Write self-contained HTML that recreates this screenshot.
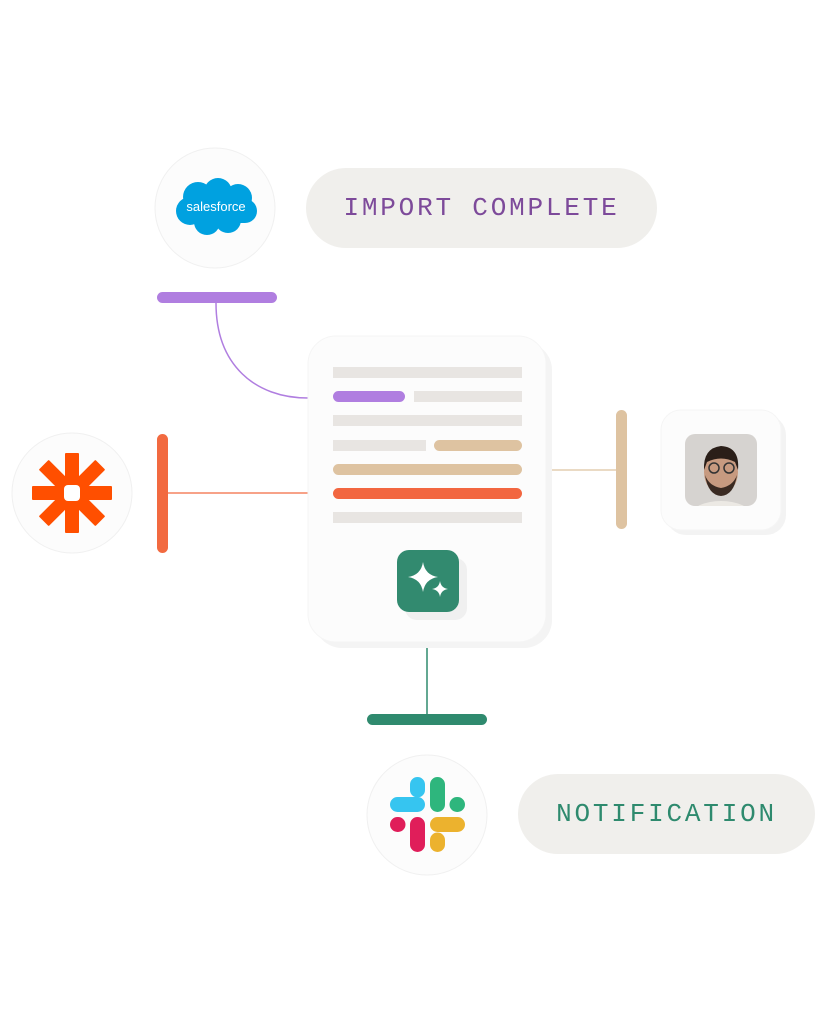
<!DOCTYPE html>
<html><head><meta charset="utf-8"><style>
html,body{margin:0;padding:0;background:#fff;}
body{width:828px;height:1024px;position:relative;overflow:hidden;font-family:"Liberation Mono",monospace;}
.a{position:absolute;}
.pill{background:#f0efec;border-radius:40px;display:flex;align-items:center;justify-content:center;font-size:26px;letter-spacing:2.8px;}
</style></head><body>
<svg class="a" style="left:0;top:0" width="828" height="1024" viewBox="0 0 828 1024">
  <path d="M216 303 C216 365 255 398 308 398" fill="none" stroke="#b07ee0" stroke-width="1.5"/>
  <line x1="168" y1="493" x2="308" y2="493" stroke="#f26a40" stroke-width="1.2"/>
  <line x1="546" y1="470" x2="616" y2="470" stroke="#dec3a1" stroke-width="1.2"/>
  <line x1="427" y1="642" x2="427" y2="714" stroke="#2f8a6e" stroke-width="1.5"/>
  <rect x="157" y="292" width="120" height="11" rx="5.5" fill="#b07ee0"/>
  <rect x="157" y="434" width="11" height="119" rx="5.5" fill="#f26a40"/>
  <rect x="616" y="410" width="11" height="119" rx="5.5" fill="#dec3a1"/>
  <rect x="367" y="714" width="120" height="11" rx="5.5" fill="#2f8a6e"/>
  <circle cx="215" cy="208" r="60" fill="#fcfcfc" stroke="#f0f0f0"/>
  <circle cx="72" cy="493" r="60" fill="#fcfcfc" stroke="#f0f0f0"/>
  <circle cx="427" cy="815" r="60" fill="#fcfcfc" stroke="#f0f0f0"/>
  <g fill="#00a1e0">
    <circle cx="198" cy="197" r="15"/><circle cx="218" cy="192" r="14"/><circle cx="238" cy="198" r="14"/>
    <circle cx="190" cy="211" r="14"/><circle cx="245" cy="211" r="12"/><circle cx="207" cy="222" r="13"/><circle cx="228" cy="220" r="13"/>
    <rect x="190" y="195" width="55" height="28"/>
  </g>
  <text x="216" y="211" font-family="Liberation Sans,sans-serif" font-size="13" fill="#fff" text-anchor="middle">salesforce</text>
  <g fill="#ff4f00" transform="translate(72,493)">
    <rect x="-7" y="-40" width="14" height="80" rx="1"/>
    <rect x="-7" y="-40" width="14" height="80" rx="1" transform="rotate(45)"/>
    <rect x="-7" y="-40" width="14" height="80" rx="1" transform="rotate(90)"/>
    <rect x="-7" y="-40" width="14" height="80" rx="1" transform="rotate(135)"/>
    <rect x="-8" y="-8" width="16" height="16" rx="4" fill="#fff"/>
  </g>
  <rect x="314" y="342" width="238" height="306" rx="28" fill="#f4f4f4"/>
  <rect x="308" y="336" width="238" height="306" rx="28" fill="#fcfcfc" stroke="#f5f5f5"/>
  <g>
    <rect x="333" y="367" width="189" height="11" fill="#e8e5e2"/>
    <rect x="333" y="391" width="72" height="11" rx="5.5" fill="#b07ee0"/>
    <rect x="414" y="391" width="108" height="11" fill="#e8e5e2"/>
    <rect x="333" y="415" width="189" height="11" fill="#e8e5e2"/>
    <rect x="333" y="440" width="93" height="11" fill="#e8e5e2"/>
    <rect x="434" y="440" width="88" height="11" rx="5.5" fill="#dec3a1"/>
    <rect x="333" y="464" width="189" height="11" rx="5.5" fill="#dec3a1"/>
    <rect x="333" y="488" width="189" height="11" rx="5.5" fill="#f26640"/>
    <rect x="333" y="512" width="189" height="11" fill="#e8e5e2"/>
  </g>
  <rect x="405" y="558" width="62" height="62" rx="12" fill="#f0f0f0"/>
  <rect x="397" y="550" width="62" height="62" rx="12" fill="#328a6f"/>
  <path d="M423 562 Q425 575 438 577 Q425 579 423 592 Q421 579 408 577 Q421 575 423 562Z" fill="#fff"/>
  <path d="M440 581 Q441 588 448 589 Q441 590 440 597 Q439 590 432 589 Q439 588 440 581Z" fill="#fff"/>
  <rect x="666" y="415" width="120" height="120" rx="20" fill="#f3f3f3"/>
  <rect x="661" y="410" width="120" height="120" rx="20" fill="#fcfcfc" stroke="#f5f5f5"/>
  <clipPath id="ph"><rect x="685" y="434" width="72" height="72" rx="10"/></clipPath>
  <g clip-path="url(#ph)">
    <rect x="685" y="434" width="72" height="72" fill="#d6d3d0"/>
    <ellipse cx="721" cy="515" rx="30" ry="14" fill="#ece9e4"/>
    <ellipse cx="721" cy="472" rx="17" ry="22" fill="#c79a80"/>
    <path d="M704 470 Q703 448 721 446 Q740 447 738 470 L735 462 Q721 455 707 462Z" fill="#2a1e18"/>
    <path d="M705 475 Q708 495 721 496 Q734 495 737 475 Q733 486 721 488 Q709 486 705 475Z" fill="#3a2a22"/>
    <circle cx="714" cy="468" r="5" fill="none" stroke="#333" stroke-width="1.5"/>
    <circle cx="729" cy="468" r="5" fill="none" stroke="#333" stroke-width="1.5"/>
  </g>
  <g stroke-linecap="round" stroke-width="15" fill="none">
    <line x1="397.5" y1="804.5" x2="417.5" y2="804.5" stroke="#36c5f0"/>
    <line x1="417.5" y1="784.5" x2="417.5" y2="790" stroke="#36c5f0"/>
    <line x1="437.5" y1="784.5" x2="437.5" y2="804.5" stroke="#2eb67d"/>
    <line x1="457" y1="804.5" x2="457.5" y2="804.5" stroke="#2eb67d"/>
    <line x1="397.5" y1="824.5" x2="398" y2="824.5" stroke="#e01e5a"/>
    <line x1="417.5" y1="824.5" x2="417.5" y2="844.5" stroke="#e01e5a"/>
    <line x1="437.5" y1="824.5" x2="457.5" y2="824.5" stroke="#ecb22e"/>
    <line x1="437.5" y1="840" x2="437.5" y2="844.5" stroke="#ecb22e"/>
  </g>
</svg>
<div class="a pill" style="left:306px;top:168px;width:351px;height:80px;color:#7d4a9a;">IMPORT COMPLETE</div>
<div class="a pill" style="left:518px;top:774px;width:297px;height:80px;color:#2e8a6e;">NOTIFICATION</div>
</body></html>
